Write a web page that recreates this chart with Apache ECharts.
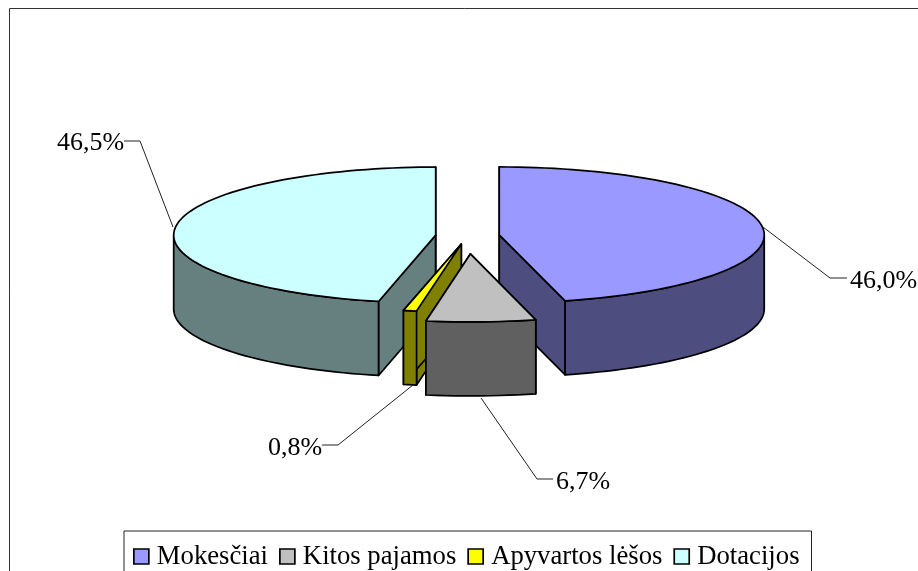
<!DOCTYPE html>
<html>
<head>
<meta charset="utf-8">
<script src="https://cdn.jsdelivr.net/npm/echarts@6/dist/echarts.min.js"></script>
<style>
html, body { margin: 0; padding: 0; background: #fff; overflow: hidden; }
#main { width: 918px; height: 571px; }
</style>
</head>
<body>
<div id="main"></div>
<script>
// data
var names = ['Mokesčiai', 'Kitos pajamos', 'Apyvartos lėšos', 'Dotacijos'];
var shares = [46.0, 6.7, 0.8, 46.5];

// colours
var topColors = ['#9999FF', '#C0C0C0', '#FFFF00', '#CCFFFF'];
var wallColors = ['#4D4D80', '#606060', '#808000', '#668080'];

// pie geometry (pixels)
var centerX = 467.5, centerY = 236;
var radiusX = [265, 263, 265, 262];
var radiusY = 68, depth = 74, tilt = radiusY / 265;
var explode = [32, 70, 32, 32];
var drawOrder = [2, 4, 3, 1];

// label placement, [text x, text y, line points...]
var labelAt = [
    { x: 850, y: 281, line: [[763, 227], [830, 278], [847, 278]] },
    { x: 556, y: 482, line: [[481, 398], [537, 479], [553, 479]] },
    { x: 268, y: 448, line: [[413, 385], [338, 445], [322, 445]] },
    { x: 57, y: 143, line: [[173, 227], [140, 141], [124, 141]] }
];

var total = shares.reduce(function (a, b) { return a + b; }, 0);
var startAngles = [];
var sum = 0;
shares.forEach(function (v) {
    startAngles.push(sum / total * 360);
    sum += v;
});

function rad(a) { return a * Math.PI / 180; }

function percentText(v) {
    return v.toFixed(1).replace('.', ',') + '%';
}

function renderSlice(idx) {
    return function (params, api) {
        var value = api.value(0);
        var a0 = startAngles[idx];
        var a1 = a0 + value / total * 360;
        var mid = rad((a0 + a1) / 2);
        var ox = centerX + Math.sin(mid) * explode[idx];
        var oy = centerY - Math.cos(mid) * explode[idx] * tilt;
        var rx = radiusX[idx];

        function rim(a, drop) {
            return [ox + Math.sin(rad(a)) * rx, oy - Math.cos(rad(a)) * radiusY + drop];
        }
        function poly(points, fill) {
            return {
                type: 'polygon',
                shape: { points: points },
                style: { fill: fill, stroke: '#000', lineWidth: 1.7, lineJoin: 'round' }
            };
        }

        var children = [];

        // cut walls
        [a0, a1].forEach(function (a) {
            var p = rim(a, 0), q = rim(a, depth);
            children.push(poly([[ox, oy], p, q, [ox, oy + depth]], wallColors[idx]));
        });

        // outer wall, only the front half of the rim shows
        var w0 = Math.max(a0, 90), w1 = Math.min(a1, 270);
        if (w1 > w0) {
            var pts = [], back = [];
            for (var a = w0; a < w1; a += 2) {
                pts.push(rim(a, 0));
                back.unshift(rim(a, depth));
            }
            pts.push(rim(w1, 0));
            back.unshift(rim(w1, depth));
            children.push(poly(pts.concat(back), wallColors[idx]));
        }

        // top face
        var top = [[ox, oy]];
        for (var b = a0; b < a1; b += 2) {
            top.push(rim(b, 0));
        }
        top.push(rim(a1, 0));
        children.push(poly(top, topColors[idx]));

        // leader line and label
        var lab = labelAt[idx];
        children.push({
            type: 'polyline',
            shape: { points: lab.line },
            style: { fill: null, stroke: '#222', lineWidth: 1 }
        });
        children.push({
            type: 'text',
            style: {
                x: lab.x,
                y: lab.y,
                text: percentText(value),
                fill: '#000',
                font: '26px "Liberation Serif"',
                textAlign: 'left',
                textVerticalAlign: 'middle'
            }
        });

        return { type: 'group', children: children };
    };
}

var myChart = echarts.init(document.getElementById('main'));

var option = {
    backgroundColor: '#fff',
    animation: false,
    graphic: [{
        type: 'rect',
        silent: true,
        z: -1,
        shape: { x: 9.5, y: 8.5, width: 1000, height: 700 },
        style: { fill: '#fff', stroke: '#333', lineWidth: 1 }
    }],
    legend: {
        left: 124,
        top: 531,
        padding: [12, 12, 12, 9],
        itemGap: 11,
        itemWidth: 15,
        itemHeight: 15,
        icon: 'rect',
        borderColor: '#222',
        borderWidth: 1,
        backgroundColor: '#fff',
        data: names,
        selectedMode: false,
        itemStyle: { borderColor: '#000', borderWidth: 1.7 },
        textStyle: {
            color: '#000',
            fontFamily: 'Liberation Serif',
            fontSize: 26.7,
            padding: [0, 0, 0, 3]
        }
    },
    series: names.map(function (name, i) {
        return {
            name: name,
            type: 'custom',
            coordinateSystem: 'none',
            z: drawOrder[i] + 2,
            silent: true,
            itemStyle: { color: topColors[i] },
            renderItem: renderSlice(i),
            data: [[shares[i]]]
        };
    })
};

myChart.setOption(option);
</script>
</body>
</html>
